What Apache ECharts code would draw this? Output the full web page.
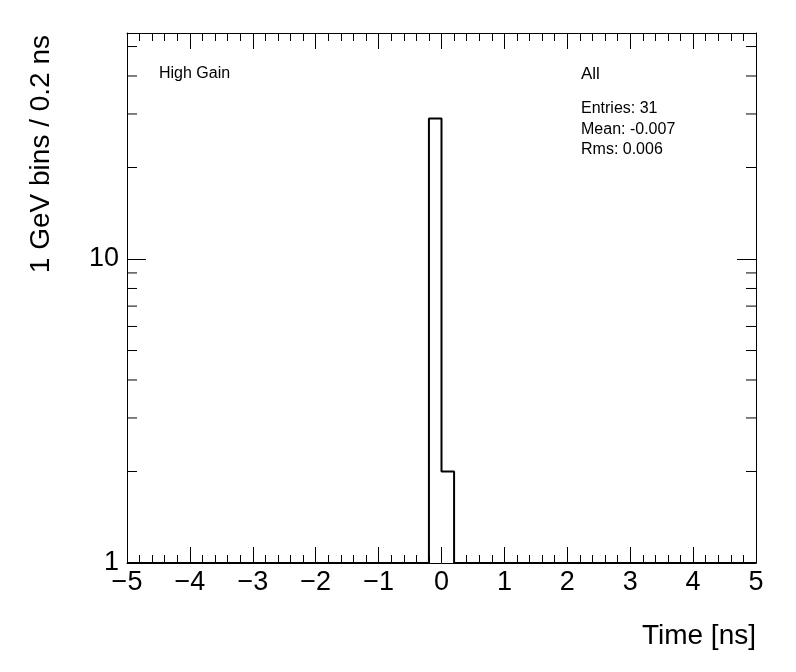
<!DOCTYPE html>
<html>
<head>
<meta charset="utf-8">
<script src="https://cdn.jsdelivr.net/npm/echarts@6/dist/echarts.min.js"></script>
<style>html,body{margin:0;padding:0;background:#fff;}#c{width:796px;height:672px;}</style>
</head>
<body>
<div id="c"></div>
<script>
// ---- data ----
const xMin = -5, xMax = 5, binWidth = 0.2;
const counts = [
  0,0,0,0,0, 0,0,0,0,0,
  0,0,0,0,0, 0,0,0,0,0,
  0,0,0,0,29, 2,0,0,0,0,
  0,0,0,0,0, 0,0,0,0,0,
  0,0,0,0,0, 0,0,0,0,0
];
const yMin = 1, yMax = 55.4;
const yMinorTicks = [2,3,4,5,6,7,8,9,20,30,40,50];
const xTitle = 'Time [ns]';
const yTitle = '1 GeV bins / 0.2 ns';
const infoLeft = 'High Gain';
const infoTitle = 'All';
const statLines = ['Entries: 31', 'Mean: -0.007', 'Rms: 0.006'];

// ---- build step outline from bins ----
const outline = [];
counts.forEach((c, i) => {
  const lo = xMin + i * binWidth, hi = lo + binWidth;
  const v = Math.max(c, yMin);
  outline.push([lo, v], [hi, v]);
});

const FONT = 'Liberation Sans, Arial, Helvetica, sans-serif';
const fmtX = v => (v < 0 ? '\u2212' + Math.abs(v) : String(v));

const chart = echarts.init(document.getElementById('c'), null, {renderer: 'canvas'});
const axisLine = {show: true, onZero: false, lineStyle: {color: '#000', width: 1}};
chart.setOption({
  animation: false,
  backgroundColor: '#fff',
  grid: {left: 127, right: 40, top: 33, bottom: 109, containLabel: false},
  xAxis: [
    {type: 'value', min: xMin, max: xMax, interval: 1, position: 'bottom',
     axisLine: axisLine, splitLine: {show: false},
     axisTick: {show: true, inside: true, length: 16, lineStyle: {color: '#000'}},
     minorTick: {show: true, splitNumber: 5, length: 8, lineStyle: {color: '#000'}},
     axisLabel: {formatter: fmtX, color: '#000', fontFamily: FONT, fontSize: 27, margin: 6}},
    {type: 'value', min: xMin, max: xMax, interval: 1, position: 'top',
     axisLine: axisLine, splitLine: {show: false},
     axisTick: {show: true, inside: true, length: 16, lineStyle: {color: '#000'}},
     minorTick: {show: true, splitNumber: 5, length: 8, lineStyle: {color: '#000'}},
     axisLabel: {show: false}}
  ],
  yAxis: [
    {type: 'log', logBase: 10, min: yMin, max: yMax, position: 'left',
     axisLine: axisLine, splitLine: {show: false},
     axisTick: {show: true, inside: true, length: 19, lineStyle: {color: '#000'}},
     axisLabel: {color: '#000', fontFamily: FONT, fontSize: 27, margin: 8,
       formatter: v => { const l = Math.log10(v); return Math.abs(l - Math.round(l)) < 1e-6 ? String(Math.round(v)) : ''; }}},
    {type: 'log', logBase: 10, min: yMin, max: yMax, position: 'right',
     axisLine: axisLine, splitLine: {show: false},
     axisTick: {show: true, inside: true, length: 19, lineStyle: {color: '#000'}},
     axisLabel: {show: false}}
  ],
  series: [
    {type: 'line', data: outline, xAxisIndex: 0, yAxisIndex: 0,
     showSymbol: false, symbol: 'none', silent: true,
     lineStyle: {color: '#000', width: 2}},
    {type: 'custom', xAxisIndex: 0, yAxisIndex: 0, silent: true, clip: false,
     data: yMinorTicks.map(v => [xMin, v]),
     renderItem: (params, api) => {
       const v = api.value(1);
       const pl = api.coord([xMin, v]);
       const pr = api.coord([xMax, v]);
       return {type: 'group', children: [
         {type: 'line', shape: {x1: pl[0], y1: pl[1], x2: pl[0] + 10, y2: pl[1]}, style: {stroke: '#000', lineWidth: 1}},
         {type: 'line', shape: {x1: pr[0], y1: pr[1], x2: pr[0] - 10, y2: pr[1]}, style: {stroke: '#000', lineWidth: 1}}
       ]};
     }}
  ],
  graphic: [
    {type: 'text', x: 756, y: 636, style: {text: xTitle, font: '28px ' + FONT, fill: '#000', textAlign: 'right', textVerticalAlign: 'middle'}},
    {type: 'text', x: 41, y: 35, rotation: Math.PI / 2, style: {text: yTitle, font: '28px ' + FONT, fill: '#000', textAlign: 'right', textVerticalAlign: 'middle'}},
    {type: 'text', x: 159, y: 74, style: {text: infoLeft, font: '16px ' + FONT, fill: '#000', textAlign: 'left', textVerticalAlign: 'middle'}},
    {type: 'text', x: 581, y: 74, style: {text: infoTitle, font: '17px ' + FONT, fill: '#000', textAlign: 'left', textVerticalAlign: 'middle'}}
  ].concat(statLines.map((t, i) => ({type: 'text', x: 581, y: 109 + i * 20.5,
    style: {text: t, font: '16px ' + FONT, fill: '#000', textAlign: 'left', textVerticalAlign: 'middle'}})))
});
</script>
</body>
</html>
